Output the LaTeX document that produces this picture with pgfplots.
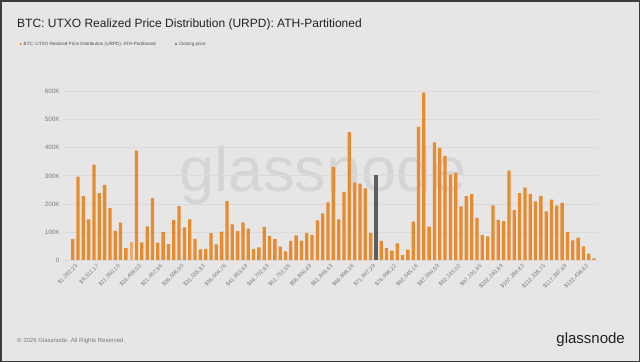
\documentclass[border=0pt]{standalone}
\usepackage{pgfplots}
\pgfplotsset{compat=1.18}
\usepackage{pgfplotstable}
\usepackage{fontspec}
\setmainfont{Liberation Sans}
\definecolor{bg}{HTML}{E6E6E6}
\definecolor{frame}{HTML}{3C3C3C}
\definecolor{gridc}{HTML}{DADADA}
\definecolor{orangebar}{HTML}{E88B2E}
\definecolor{orangelight}{HTML}{EBAA6C}
\definecolor{closegray}{HTML}{5E5E5E}
\definecolor{tickc}{HTML}{7A7A7A}
\definecolor{titlec}{HTML}{222222}
\definecolor{wm}{HTML}{D5D5D5}
\pgfplotstableread{
k v
1 74
2 297
3 228
4 145
5 340
6 238
7 268
8 185
9 104
10 133
11 42
13 390
14 63
15 120
16 221
17 62
18 100
19 57
20 143
21 192
22 116
23 145
24 75
25 38
26 40
27 96
28 56
29 101
30 210
31 127
32 103
33 134
34 112
35 40
36 45
37 118
38 86
39 74
40 48
41 31
42 68
43 88
44 69
45 97
46 90
47 141
48 166
49 205
50 331
51 145
52 243
53 456
54 276
55 272
56 255
57 97
59 68
60 43
61 33
62 59
63 17
64 37
65 137
66 475
67 597
68 119
69 419
70 400
71 371
72 304
73 310
74 191
75 228
76 235
77 150
78 90
79 84
80 195
81 143
82 139
83 319
84 178
85 238
86 258
87 236
88 209
89 229
90 173
91 215
92 194
93 204
94 100
95 70
96 80
97 49
98 23
99 6
}\urpd
\begin{document}
\begin{tikzpicture}[x=1pt,y=1pt]
\useasboundingbox (0,0) rectangle (640,362);
\fill[frame] (0,0) rectangle (640,362);
\fill[bg] (1.5,1.5) rectangle (638.5,359.5);
% watermark
\node[anchor=base, font=\fontsize{63}{63}\selectfont, text=wm, inner sep=0] at (323,171) {glassnode};
% title
\node[anchor=base west, font=\fontsize{12}{12}\selectfont, text=titlec, inner sep=0] at (17,334.5) {BTC: UTXO Realized Price Distribution (URPD): ATH-Partitioned};
% legend
\fill[orangebar] (20.7,318) circle (1.2);
\node[anchor=west, font=\fontsize{4.6}{4.6}\selectfont, text=titlec!80, inner sep=0] at (23.5,318) {BTC: UTXO Realized Price Distribution (URPD): ATH-Partitioned};
\fill[closegray] (176,318) circle (1.2);
\node[anchor=west, font=\fontsize{4.6}{4.6}\selectfont, text=titlec!80, inner sep=0] at (178.8,318) {Closing price};
% footer
\node[anchor=west, font=\fontsize{6}{6}\selectfont, text=tickc, inner sep=0] at (17,21) {\textcopyright{} 2026 Glassnode. All Rights Reserved.};
\node[anchor=east, font=\fontsize{15}{15}\selectfont, text=titlec, inner sep=0] at (625,22) {glassnode};
\begin{axis}[
  at={(63pt,102pt)}, anchor=south west,
  scale only axis, width=535pt, height=168.3pt,
  xmin=-0.82, xmax=99.74, ymin=0, ymax=600,
  axis line style={draw=none},
  major tick length=0pt,
  ymajorgrids, grid style={gridc, line width=0.8pt},
  ytick={0,100,200,300,400,500,600},
  yticklabels={0,100K,200K,300K,400K,500K,600K},
  yticklabel style={font=\fontsize{6.3}{6.3}\selectfont, text=tickc},
  xtick={1,5,...,97},
  xticklabels={{\$1,262.23},{\$6,311.17},{\$11,360.10},{\$16,409.03},{\$21,457.96},{\$26,506.90},{\$31,555.83},{\$36,604.76},{\$41,653.69},{\$46,702.63},{\$51,751.56},{\$56,800.49},{\$61,849.43},{\$66,898.36},{\$71,947.29},{\$76,996.22},{\$82,045.16},{\$87,094.09},{\$92,143.02},{\$97,191.95},{\$102,240.89},{\$107,289.82},{\$112,338.75},{\$117,387.69},{\$122,436.62}},
  xticklabel style={font=\fontsize{5.6}{5.6}\selectfont, text=tickc, rotate=45, anchor=north east, inner sep=1pt, yshift=-3pt},
  clip=false,
]
\addplot[ybar, bar width=3.3pt, fill=orangebar, draw=none] table[x=k,y=v] {\urpd};
\addplot[ybar, bar width=3.3pt, fill=orangelight, draw=none] coordinates {(12,63)};
\addplot[ybar, bar width=3.3pt, fill=closegray, draw=none] coordinates {(58,303)};
\end{axis}
\end{tikzpicture}
\end{document}
